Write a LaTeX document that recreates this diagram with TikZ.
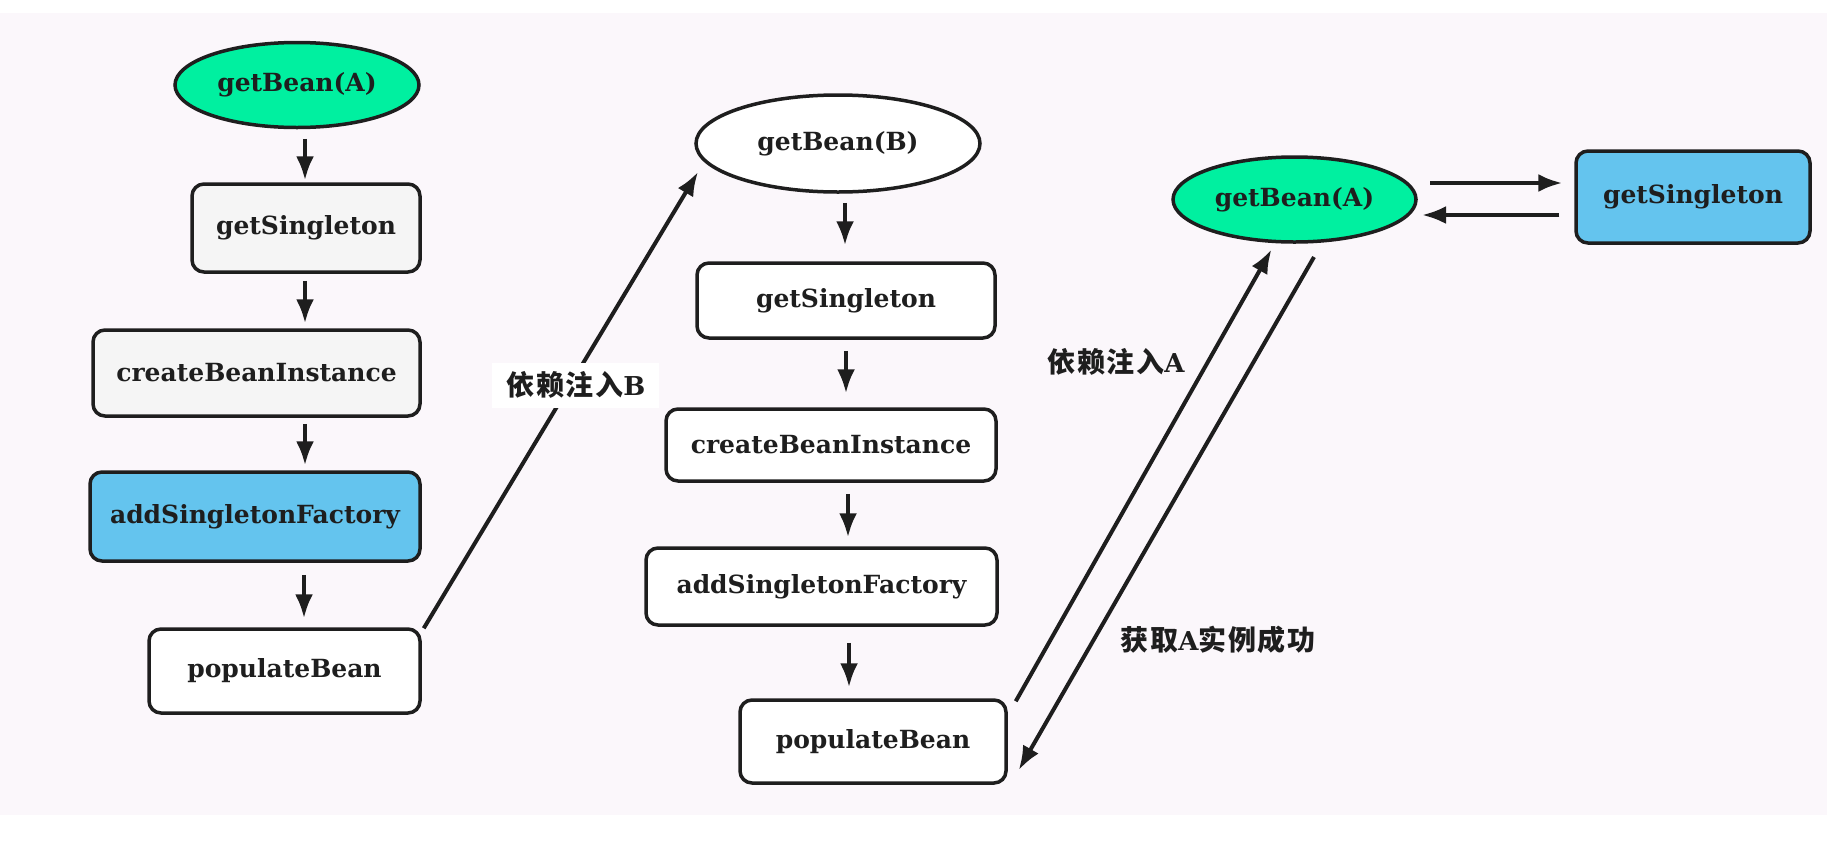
\documentclass[tikz,border=0pt]{standalone}
\usepackage{fontspec}
\setmainfont{DejaVu Serif}
\usetikzlibrary{shapes.geometric,arrows.meta,calc}
\newfontfamily\cjk{Noto Sans CJK SC}[LetterSpace=6]
\definecolor{bgc}{HTML}{FBF7FB}
\definecolor{grn}{HTML}{00F0A0}
\definecolor{blu}{HTML}{64C4EE}
\definecolor{lgr}{HTML}{F5F5F5}
\definecolor{ink}{HTML}{1E1E1E}
\tikzset{
  base/.style={draw=ink, line width=3.5pt, inner sep=0pt, text=ink,
    font=\fontsize{25}{29}\selectfont\bfseries},
  box/.style={base, rectangle, rounded corners=12pt},
  oval/.style={base, ellipse},
  arr/.style={draw=ink, line width=4pt, -{Latex[length=24pt,width=18pt]}},
  lbl/.style={inner sep=0pt, text=ink, font=\fontsize{28}{32}\selectfont\bfseries},
}
\newcommand{\zh}[1]{{\cjk\bfseries #1}}
\newcommand{\la}[1]{{\fontsize{26}{30}\selectfont #1}}
\begin{document}
\begin{tikzpicture}[x=1pt,y=-1pt]
\useasboundingbox (0,0) rectangle (1827,841);
\fill[white] (0,0) rectangle (1827,841);
\fill[bgc] (0,13) rectangle (1827,815);

\coordinate (colL) at (305,0);
\coordinate (colR) at (847,0);

% left column
\node[oval, fill=grn, minimum width=244, minimum height=85] (gbA1) at (297,85) {getBean(A)};
\node[box, fill=lgr, minimum width=228, minimum height=88] (gs1) at (306,228) {getSingleton};
\node[box, fill=lgr, minimum width=327, minimum height=86] (cbi1) at (256.5,373) {createBeanInstance};
\node[box, fill=blu, minimum width=330, minimum height=89] (asf1) at (255,516.5) {addSingletonFactory};
\node[box, fill=white, minimum width=271, minimum height=84] (pb1) at (284.5,671) {populateBean};

% middle column
\node[oval, fill=white, minimum width=284, minimum height=97] (gbB) at (838,143.5) {getBean(B)};
\node[box, fill=white, minimum width=298, minimum height=75] (gs2) at (846,300.5) {getSingleton};
\node[box, fill=white, minimum width=330, minimum height=72] (cbi2) at (831,445) {createBeanInstance};
\node[box, fill=white, minimum width=351, minimum height=77] (asf2) at (821.5,586.5) {addSingletonFactory};
\node[box, fill=white, minimum width=266, minimum height=83] (pb2) at (873,741.5) {populateBean};

% right
\node[oval, fill=grn, minimum width=243, minimum height=85] (gbA2) at (1294.5,199.5) {getBean(A)};
\node[box, fill=blu, minimum width=234, minimum height=92] (gsR) at (1693,197) {getSingleton};

% left vertical arrows
\draw[arr] ($(gbA1.south -| colL)+(0,9.5)$) -- ($(gs1.north -| colL)+(0,-2)$);
\draw[arr] ($(gs1.south -| colL)+(0,7)$) -- ($(cbi1.north -| colL)+(0,-5)$);
\draw[arr] ($(cbi1.south -| colL)+(0,6)$) -- ($(asf1.north -| colL)+(0,-5)$);
\draw[arr] ($(asf1.south -| colL)+(-1,12)$) -- ($(pb1.north -| colL)+(-1,-9)$);

% middle vertical arrows
\draw[arr] ($(gbB.south -| colR)+(-2,9)$) -- ($(gs2.north -| colR)+(-2,-16)$);
\draw[arr] ($(gs2.south -| colR)+(-1,11)$) -- ($(cbi2.north -| colR)+(-1,-14)$);
\draw[arr] ($(cbi2.south -| colR)+(1,11)$) -- ($(asf2.north -| colR)+(1,-9)$);
\draw[arr] ($(asf2.south -| colR)+(2,16)$) -- ($(pb2.north -| colR)+(2,-11)$);

% cross arrows
\coordinate (tipB) at ($(gbB.center)+(-140,28.5)$);
\draw[arr] ($(pb1.north east)+(2,1)$) -- (tipB)
  node[pos=0.533, xshift=6pt, lbl, fill=white, inner xsep=14pt, inner ysep=9pt] (lB) {\zh{依赖注入}\la{B}};

\draw[arr] ($(pb2.north east)+(8,3)$) -- ($(gbA2.center)+(-23,50)$);
\draw[arr] ($(gbA2.center)+(19.5,57.5)$) -- ($(pb2.east)+(11,28.5)$);
\node[lbl] (lA) at (1116,362) {\zh{依赖注入}\la{A}};
\node[lbl] (lOK) at (1218,640) {\zh{获取}\la{A}\zh{实例成功}};

% horizontal arrows
\draw[arr] ($(gbA2.center)+(135.5,-16.5)$) -- ($(gsR.west)+(-12,-14)$);
\draw[arr] ($(gsR.west)+(-15,18)$) -- ($(gbA2.center)+(127.5,15.5)$);
\end{tikzpicture}
\end{document}
